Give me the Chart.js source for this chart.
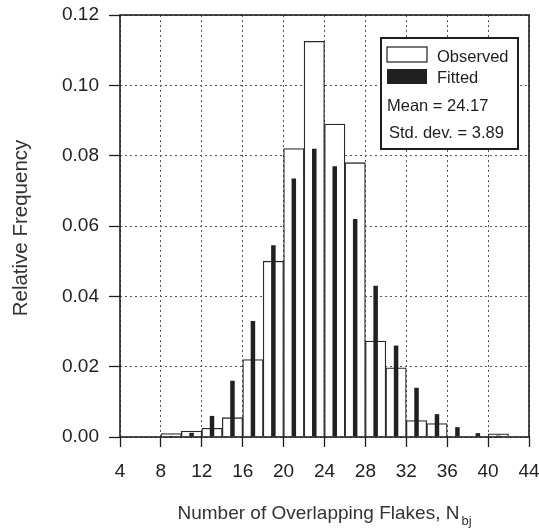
<!DOCTYPE html>
<html>
<head>
<meta charset="utf-8">
<script src="https://cdn.jsdelivr.net/npm/chart.js@4.4.1/dist/chart.umd.min.js"></script>
<style>
  html, body { margin: 0; padding: 0; background: #fff; }
  #wrap { width: 539px; height: 530px; }
</style>
</head>
<body>
<div id="wrap"><canvas id="histChart" width="539" height="530"></canvas></div>
<script>
// bin centres (bins are 2 flakes wide)
const binCenters = [9, 11, 13, 15, 17, 19, 21, 23, 25, 27, 29, 31, 33, 35, 37, 39, 41];
const observed = [0.001, 0.0017, 0.0025, 0.0055, 0.022, 0.050, 0.082, 0.1125, 0.089, 0.078, 0.0273, 0.0197, 0.0047, 0.0038, 0, 0, 0.0009];
const fitted = [0.0003, 0.0012, 0.006, 0.016, 0.033, 0.0545, 0.0735, 0.082, 0.077, 0.062, 0.043, 0.026, 0.014, 0.0065, 0.0028, 0.0011, 0.0004];
const xTicks = [4, 8, 12, 16, 20, 24, 28, 32, 36, 40, 44];
const yTicks = [0, 0.02, 0.04, 0.06, 0.08, 0.10, 0.12];
const statsText = ["Mean = 24.17", "Std. dev. = 3.89"];

const FONT = "'Liberation Sans', Arial, Helvetica, sans-serif";
const INK = "#1e1e1e";

// frame, legend box and axis titles (x title has a subscript)
const decorPlugin = {
  id: "decor",
  afterDraw(chart) {
    const { ctx, chartArea: a } = chart;
    ctx.save();
    ctx.strokeStyle = INK;
    ctx.lineWidth = 1.6;
    ctx.strokeRect(a.left, a.top, a.right - a.left, a.bottom - a.top);

    // legend
    const bx = a.right - 148, by = a.top + 23, bw = 137, bh = 111;
    ctx.fillStyle = "#fff";
    ctx.fillRect(bx, by, bw, bh);
    ctx.lineWidth = 2;
    ctx.strokeRect(bx, by, bw, bh);
    const ds = chart.data.datasets;
    ctx.font = "16.5px " + FONT;
    ctx.textBaseline = "middle";
    ctx.textAlign = "left";
    // Observed swatch
    ctx.lineWidth = 1.2;
    ctx.fillStyle = ds[1].backgroundColor;
    ctx.fillRect(bx + 6, by + 9, 40, 15);
    ctx.strokeRect(bx + 6, by + 9, 40, 15);
    ctx.fillStyle = INK;
    ctx.fillText(ds[1].label, bx + 56, by + 19);
    // Fitted swatch
    ctx.fillStyle = ds[0].backgroundColor;
    ctx.fillRect(bx + 6, by + 31, 40, 15);
    ctx.fillStyle = INK;
    ctx.fillText(ds[0].label, bx + 56, by + 40);
    ctx.fillText(statsText[0], bx + 6, by + 68);
    ctx.fillText(statsText[1], bx + 8, by + 95);

    // y title
    ctx.font = "20.5px " + FONT;
    ctx.fillStyle = "#333";
    ctx.save();
    ctx.translate(21, (a.top + a.bottom) / 2 + 2);
    ctx.rotate(-Math.PI / 2);
    ctx.textAlign = "center";
    ctx.fillText("Relative Frequency", 0, 0);
    ctx.restore();

    // x title with subscript
    const main = "Number of Overlapping Flakes, N";
    const sub = "bj";
    ctx.font = "19px " + FONT;
    const wMain = ctx.measureText(main).width;
    ctx.font = "13px " + FONT;
    const wSub = ctx.measureText(sub).width;
    const x0 = (a.left + a.right) / 2 - (wMain + wSub + 2) / 2;
    ctx.textBaseline = "alphabetic";
    ctx.font = "19px " + FONT;
    ctx.fillText(main, x0, 519);
    ctx.font = "13px " + FONT;
    ctx.fillText(sub, x0 + wMain + 2, 525);
    ctx.restore();
  }
};

new Chart(document.getElementById("histChart"), {
  type: "bar",
  data: {
    datasets: [
      {
        label: "Fitted",
        data: binCenters.map((x, i) => ({ x: x, y: fitted[i] })),
        backgroundColor: "#202020",
        borderWidth: 0,
        barPercentage: 0.22,
        categoryPercentage: 1,
        order: 0
      },
      {
        label: "Observed",
        data: binCenters.map((x, i) => ({ x: x, y: observed[i] })),
        backgroundColor: "#ffffff",
        borderColor: "#2a2a2a",
        borderWidth: 1.3,
        borderSkipped: "bottom",
        barPercentage: 1,
        categoryPercentage: 1,
        order: 1
      }
    ]
  },
  options: {
    responsive: false,
    animation: false,
    events: [],
    layout: { padding: { left: 0, right: 10, top: 15, bottom: 0 } },
    plugins: { legend: { display: false }, tooltip: { enabled: false } },
    datasets: { bar: { grouped: false } },
    scales: {
      x: {
        type: "linear",
        min: 4,
        max: 44,
        offset: false,
        afterBuildTicks: (s) => { s.ticks = xTicks.map(v => ({ value: v })); },
        afterFit: (s) => { s.height = 93; s.paddingLeft = 0; s.paddingRight = 0; },
        ticks: { color: "#222", font: { family: FONT, size: 19 }, padding: 13 },
        grid: { offset: false, color: "#555", lineWidth: 1, tickLength: 10, tickColor: INK, tickWidth: 1.3 },
        border: { display: false, dash: [2, 3] }
      },
      y: {
        min: 0,
        max: 0.12,
        afterBuildTicks: (s) => { s.ticks = yTicks.map(v => ({ value: v })); },
        afterFit: (s) => { s.width = 120; s.paddingTop = 0; s.paddingBottom = 0; },
        ticks: { color: "#222", font: { family: FONT, size: 19 }, padding: 10, callback: (v) => v.toFixed(2) },
        grid: { color: "#555", lineWidth: 1, tickLength: 11, tickColor: INK, tickWidth: 1.3 },
        border: { display: false, dash: [2, 3] }
      }
    }
  },
  plugins: [decorPlugin]
});
</script>
</body>
</html>
